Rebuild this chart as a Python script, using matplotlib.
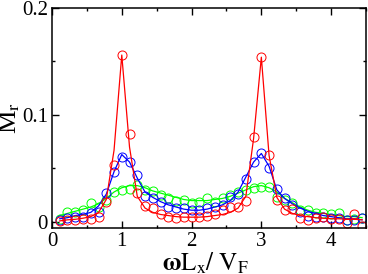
import matplotlib
matplotlib.use("Agg")
import matplotlib.pyplot as plt
from matplotlib.ticker import MultipleLocator

plt.rcParams['font.family'] = ['Liberation Serif', 'DejaVu Serif']
plt.rcParams['mathtext.fontset'] = 'stix'

# sample points (omega Lx / VF), same grid for data and fit
x = [0.111, 0.222, 0.333, 0.444, 0.556, 0.667, 0.778, 0.889, 1.000, 1.111,
     1.222, 1.333, 1.444, 1.556, 1.667, 1.778, 1.889, 2.000, 2.111, 2.222,
     2.333, 2.444, 2.556, 2.667, 2.778, 2.889, 3.000, 3.111, 3.222, 3.333,
     3.444, 3.556, 3.667, 3.778, 3.889, 4.000, 4.111, 4.222, 4.333, 4.444]

# circles (simulation)
red_pts = [0.001, 0.002, 0.002, 0.003, 0.003, 0.005, 0.019, 0.053, 0.156, 0.082,
           0.027, 0.015, 0.013, 0.007, 0.005, 0.004, 0.005, 0.005, 0.005, 0.006,
           0.0075, 0.011, 0.014, 0.014, 0.020, 0.079, 0.154, 0.063, 0.021, 0.011,
           0.012, 0.004, 0.002, 0.004, 0.005, 0.003, 0.003, -0.001, 0.007, -0.004]
blue_pts = [0.002, 0.004, 0.005, 0.005, 0.008, 0.009, 0.027, 0.047, 0.061, 0.056,
            0.044, 0.024, 0.022, 0.019, 0.014, 0.013, 0.013, 0.011, 0.011, 0.013,
            0.014, 0.016, 0.023, 0.026, 0.040, 0.056, 0.064, 0.050, 0.031, 0.022,
            0.016, 0.009, 0.006, 0.005, 0.005, 0.004, 0.004, 0.002, 0.002, 0.004]
green_pts = [0.003, 0.009, 0.009, 0.011, 0.018, 0.014, 0.021, 0.028, 0.030, 0.031,
             0.035, 0.030, 0.029, 0.025, 0.022, 0.020, 0.021, 0.018, 0.019, 0.022,
             0.019, 0.022, 0.025, 0.028, 0.030, 0.032, 0.033, 0.033, 0.023, 0.021,
             0.018, 0.011, 0.011, 0.008, 0.008, 0.0075, 0.008, 0.002, 0.003, 0.004]

# lines (fit)
red_fit = [0.001, 0.002, 0.0025, 0.0035, 0.005, 0.009, 0.021, 0.067, 0.156, 0.070,
           0.024, 0.013, 0.009, 0.007, 0.006, 0.005, 0.0045, 0.0045, 0.0045, 0.005,
           0.006, 0.007, 0.009, 0.013, 0.024, 0.078, 0.154, 0.062, 0.023, 0.012,
           0.008, 0.006, 0.005, 0.004, 0.0035, 0.003, 0.003, 0.0025, 0.0025, 0.002]
blue_fit = [0.003, 0.004, 0.006, 0.007, 0.009, 0.015, 0.026, 0.047, 0.063, 0.056,
            0.041, 0.028, 0.023, 0.019, 0.016, 0.014, 0.012, 0.011, 0.011, 0.012,
            0.014, 0.016, 0.020, 0.028, 0.042, 0.056, 0.064, 0.052, 0.030, 0.022,
            0.017, 0.013, 0.010, 0.008, 0.006, 0.005, 0.004, 0.003, 0.003, 0.002]
green_fit = [0.006, 0.008, 0.010, 0.012, 0.014, 0.017, 0.022, 0.028, 0.032, 0.034,
             0.034, 0.032, 0.029, 0.027, 0.025, 0.023, 0.021, 0.020, 0.020, 0.020,
             0.021, 0.022, 0.024, 0.027, 0.030, 0.033, 0.034, 0.032, 0.028, 0.022,
             0.018, 0.014, 0.011, 0.009, 0.008, 0.007, 0.006, 0.005, 0.005, 0.004]

fig = plt.figure(figsize=(3.68, 2.74), dpi=100)
ax = fig.add_axes([0.1413, 0.168, 0.8533, 0.803])

series = [(green_pts, green_fit, '#00ff00'),
          (blue_pts, blue_fit, '#0000ff'),
          (red_pts, red_fit, '#ff0000')]
for pts, fit, c in series:
    ax.plot(x, fit, '-', color=c, lw=0.9)
    ax.plot(x, pts, 'o', color=c, mfc='none', ms=6.5, mew=0.7)

ax.set_xlim(0, 4.5)
ax.set_ylim(-0.0056, 0.2)
ax.xaxis.set_major_locator(MultipleLocator(1))
ax.xaxis.set_minor_locator(MultipleLocator(0.5))
ax.yaxis.set_major_locator(MultipleLocator(0.1))
ax.yaxis.set_minor_locator(MultipleLocator(0.05))
ax.set_yticks([0, 0.1, 0.2])
ax.set_yticklabels(['0', '0.1', '0.2'])
ax.set_xticks([0, 1, 2, 3, 4])
ax.set_xticklabels(['0', '1', '2', '3', '4'])

ax.tick_params(which='both', direction='in', top=True, right=True,
               labelsize=15, width=1, pad=3)
ax.tick_params(which='major', length=5)
ax.tick_params(which='minor', length=2.5)
for s in ax.spines.values():
    s.set_linewidth(1.1)

ax.set_xlabel(r'$\mathbf{\omega}\mathrm{L_x/\ V_F}$', fontsize=18)
ax.set_ylabel('M$_\\mathrm{r}$', fontsize=19)
ax.xaxis.set_label_coords(0.49, -0.1)
ax.yaxis.set_label_coords(-0.095, 0.5)

fig.savefig('out.png', dpi=100)
